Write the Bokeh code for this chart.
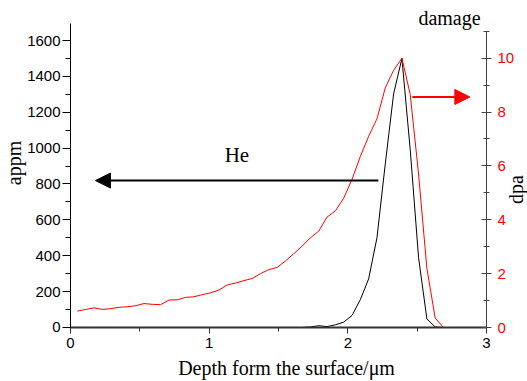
import math
from bokeh.plotting import figure
from bokeh.models import (Range1d, LinearAxis, SingleIntervalTicker, Label,
                          Arrow, NormalHead)
from bokeh.embed import file_html
from bokeh.resources import INLINE

# ---- data ----
depth_dpa = [0.05, 0.11, 0.17, 0.23, 0.29, 0.35, 0.41, 0.47, 0.53, 0.59,
             0.65, 0.71, 0.77, 0.83, 0.89, 0.95, 1.01, 1.07, 1.13, 1.19,
             1.25, 1.31, 1.37, 1.43, 1.49, 1.55, 1.61, 1.67, 1.73, 1.79,
             1.85, 1.91, 1.97, 2.03, 2.09, 2.15, 2.21, 2.27, 2.33, 2.39,
             2.45, 2.51, 2.57, 2.63, 2.69, 3.0]
dpa = [0.61, 0.67, 0.73, 0.67, 0.70, 0.75, 0.77, 0.81, 0.89, 0.86,
       0.85, 1.02, 1.03, 1.12, 1.14, 1.22, 1.29, 1.39, 1.58, 1.65,
       1.74, 1.82, 2.00, 2.15, 2.23, 2.47, 2.74, 3.02, 3.33, 3.58,
       4.10, 4.33, 4.80, 5.50, 6.35, 7.10, 7.75, 8.90, 9.55, 10.0,
       8.65, 5.70, 2.20, 0.35, 0.0, 0.0]

depth_he = [0.0, 1.67, 1.73, 1.79, 1.85, 1.91, 1.97, 2.03, 2.09, 2.15,
            2.21, 2.27, 2.33, 2.39, 2.45, 2.51, 2.57, 2.63, 2.69, 3.0]
he_appm = [0, 0, 3, 10, 5, 15, 30, 67, 155, 271,
           500, 912, 1302, 1500, 990, 390, 48, 3, 0, 0]

x_bounds = (0, 3)
appm_bounds = (0, 1694.8)
dpa_bounds = (0, 11)
x_ticks_interval = 1
appm_ticks_interval = 200
dpa_ticks_interval = 2

SERIF = "Liberation Serif"
SANS = "Liberation Sans"

# the frame covers the whole canvas; axes sit at fixed data locations
p = figure(width=527, height=381, output_backend="svg", toolbar_location=None,
           x_range=Range1d(-0.5048, 3.2956), y_range=Range1d(-301.05, 1823.0),
           x_axis_location=None, y_axis_location=None, min_border=0)
p.extra_y_ranges = {"dpa": Range1d(-2.005, 12.143)}
p.outline_line_color = None
p.grid.visible = False
p.background_fill_color = "white"
p.border_fill_color = "white"

# lines
p.line(depth_he, he_appm, line_color="black", line_width=1)
p.line(depth_dpa, dpa, line_color="red", line_width=1, y_range_name="dpa")

# bottom axis
xa = LinearAxis(fixed_location=0, bounds=x_bounds,
                ticker=SingleIntervalTicker(interval=x_ticks_interval, num_minor_ticks=2))
xa.axis_line_width = 2
xa.axis_line_color = "#333333"
xa.major_tick_line_color = "#333333"
xa.minor_tick_line_color = "#333333"
xa.major_tick_in = 0
xa.major_tick_out = 6
xa.minor_tick_in = 0
xa.minor_tick_out = 4
xa.major_label_standoff = 5
xa.major_label_text_font = SANS
xa.major_label_text_font_size = "15px"
xa.major_label_text_color = "black"
p.add_layout(xa, "below")

# left axis
ya = LinearAxis(fixed_location=0, bounds=appm_bounds,
                ticker=SingleIntervalTicker(interval=appm_ticks_interval, num_minor_ticks=2))
ya.axis_line_color = "black"
ya.major_tick_in = 0
ya.major_tick_out = 8
ya.minor_tick_in = 0
ya.minor_tick_out = 5
ya.major_label_standoff = 2
ya.major_label_text_font = SANS
ya.major_label_text_font_size = "15px"
ya.major_label_text_color = "black"
p.add_layout(ya, "left")

# right axis
ra = LinearAxis(y_range_name="dpa", fixed_location=3, bounds=dpa_bounds,
                ticker=SingleIntervalTicker(interval=dpa_ticks_interval, num_minor_ticks=2))
ra.axis_line_color = "#444444"
ra.major_tick_line_color = "#444444"
ra.minor_tick_line_color = "#444444"
ra.major_tick_in = 5
ra.major_tick_out = 5
ra.minor_tick_in = 3
ra.minor_tick_out = 3
ra.major_label_standoff = 6
ra.major_label_text_font = SANS
ra.major_label_text_font_size = "15px"
ra.major_label_text_color = "red"
p.add_layout(ra, "right")

# arrows
p.add_layout(Arrow(end=NormalHead(size=15, fill_color="black", line_color="black"),
                   x_start=2.22, y_start=819, x_end=0.18, y_end=819,
                   line_color="black", line_width=2))
p.add_layout(Arrow(end=NormalHead(size=15, fill_color="red", line_color="red"),
                   x_start=2.465, y_start=8.56, x_end=2.88, y_end=8.56,
                   line_color="red", line_width=2, y_range_name="dpa"))

# texts
def lab(text, x, y, angle=0.0, size="20px"):
    p.add_layout(Label(text=text, x=x, y=y, angle=angle, text_align="center",
                       text_baseline="middle", text_font=SERIF,
                       text_font_size=size, text_color="black"))

lab("He", 1.20, 959, size="21px")
lab("damage", 2.733, 1725)
lab("appm", -0.411, 917, angle=math.pi / 2)
lab("dpa", 3.216, 769, angle=math.pi / 2)
lab("Depth form the surface/\u03bcm", 1.558, -228)

open("out.html", "w").write(file_html(p, INLINE))
